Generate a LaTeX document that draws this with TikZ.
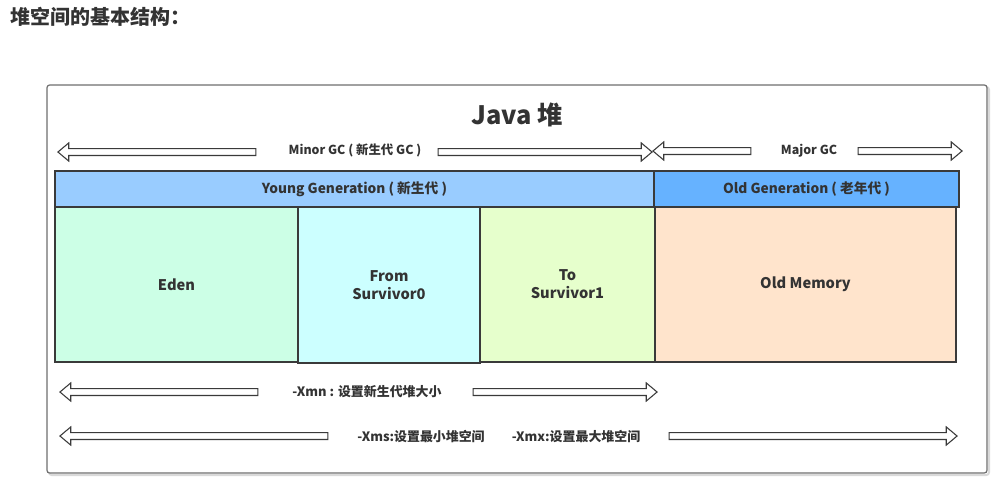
\documentclass[tikz,border=0pt]{standalone}
\usepackage{fontspec}
\setmainfont{Noto Sans CJK SC}
\usetikzlibrary{positioning, shapes.arrows}

\definecolor{textgray}{HTML}{333333}
\definecolor{linegray}{HTML}{3A3A3A}
\definecolor{framegray}{HTML}{6E6E6E}
\definecolor{youngblue}{HTML}{99CCFF}
\definecolor{oldblue}{HTML}{66B2FF}
\definecolor{edengreen}{HTML}{CCFFE6}
\definecolor{fromcyan}{HTML}{CCFFFF}
\definecolor{tolime}{HTML}{E6FFCC}
\definecolor{oldpeach}{HTML}{FFE4CC}

\begin{document}
\begin{tikzpicture}[x=0.75pt, y=-0.75pt,
  every node/.style={text=textgray, font=\bfseries},
  part/.style={draw=linegray, line width=1pt, inner sep=0pt, outer sep=0pt, align=center},
  hollow/.style={single arrow, draw=linegray, fill=white, line width=0.8pt,
    inner xsep=0pt, inner ysep=2.2pt, single arrow head extend=4.2pt,
    single arrow tip angle=80, minimum height=#1},
  hollowleft/.style={hollow=#1, shape border rotate=180},
  gclabel/.style={font=\bfseries\fontsize{9.3}{11}\selectfont},
  cmdlabel/.style={font=\bfseries\fontsize{9.7}{11}\selectfont}]

    \useasboundingbox (0,0) rectangle (1003,487);

    % Page heading
    \node[anchor=west, inner sep=0pt, font=\bfseries\fontsize{15}{18}\selectfont] (heading) at (10,17) {堆空间的基本结构：};

    % Heap frame
    \draw[gray!30, line width=1.5pt, rounded corners=2pt] (49,87) rectangle (989,475);
    \draw[framegray, fill=white, line width=0.9pt, rounded corners=2pt] (47,85) rectangle (987,473);
    \node[font=\bfseries\fontsize{19}{22}\selectfont] (heap) at (517,115) {Java 堆};

    % GC arrows
    \node[hollowleft=148.5pt] (minorl) at (159,152) {};
    \node[hollow=160.5pt] (minorr) at (543,152) {};
    \node[gclabel] (minor) at (355,150) {Minor GC ( 新生代 GC )};
    \node[hollowleft=73.5pt] (majorl) at (704,151) {};
    \node[hollow=78pt] (majorr) at (908,151) {};
    \node[gclabel] (major) at (809,151) {Major GC};

    % Generations
    \node[part, fill=youngblue, minimum width=449.25pt, minimum height=27pt, font=\bfseries\fontsize{10.3}{12}\selectfont] (young) at (354.5,189) {Young Generation ( 新生代 )};
    \node[part, fill=oldblue, minimum width=228.75pt, minimum height=27pt, right=0pt of young, font=\bfseries\fontsize{10.3}{12}\selectfont] (oldgen) {Old Generation ( 老年代 )};

    % Memory areas
    \node[part, fill=edengreen, minimum width=182.25pt, minimum height=116.25pt, anchor=north west, font=\bfseries\fontsize{11}{13.5}\selectfont] (eden) at (young.south west) {Eden};
    \node[part, fill=fromcyan, minimum width=136.5pt, minimum height=117pt, anchor=north west, font=\bfseries\fontsize{11}{13.5}\selectfont] (from) at (eden.north east) {From\\Survivor0};
    \node[part, fill=tolime, minimum width=131.25pt, minimum height=116.25pt, anchor=north west, font=\bfseries\fontsize{11}{13.5}\selectfont] (to) at (from.north east) {To\\Survivor1};
    \node[part, fill=oldpeach, minimum width=225.75pt, minimum height=116.25pt, anchor=north west, font=\bfseries\fontsize{11}{13.5}\selectfont] (oldmem) at (to.north east) {Old Memory};

    % Heap size options
    \node[hollowleft=148.5pt] (xmnl) at (161,392) {};
    \node[hollow=138pt] (xmnr) at (563,392) {};
    \node[cmdlabel] (xmn) at (367,392) {-Xmn : 设置新生代堆大小};
    \node[hollowleft=201pt] (xmsl) at (196,436) {};
    \node[hollow=216pt] (xmxr) at (811,436) {};
    \node[cmdlabel] (xms) at (421,437) {-Xms:设置最小堆空间};
    \node[cmdlabel] (xmx) at (576,437) {-Xmx:设置最大堆空间};
\end{tikzpicture}
\end{document}
